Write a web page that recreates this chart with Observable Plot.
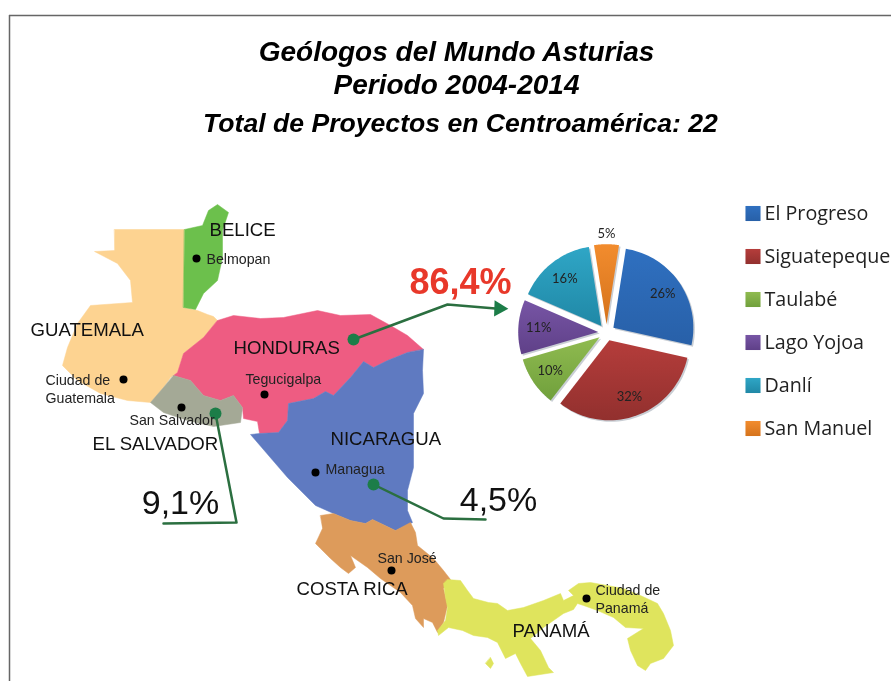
<!DOCTYPE html>
<html><head><meta charset="utf-8">
<style>html,body{margin:0;padding:0;background:#fff}svg{display:block;filter:blur(0.45px)}</style>
<script src="https://cdn.jsdelivr.net/npm/d3@7"></script>
<script src="https://cdn.jsdelivr.net/npm/@observablehq/plot@0.6"></script>
</head><body><div id="chart"></div>
<script>
// ---- pie data
const projects = ["El Progreso","Siguatepeque","Taulabé","Lago Yojoa","Danlí","San Manuel"];
const shares = [26,32,10,11,16,5];
const sliceTop = ["#2f70c0","#b53d3b","#90bb50","#7755a5","#2fa6c6","#f28c2e"];
const sliceBottom = ["#2860a8","#92302e","#70a03c","#5f4088","#2088a6","#d5731c"];
// ---- map outlines, in picture units
const guatemala = [[114,229],[184,229],[183,307],[197,310],[207,314],[213,316],[217,320],[203,337],[183,353],[177,372],[170,377],[163,387],[150,402],[127,400],[100,393],[77,380],[62,365],[67,347],[77,323],[90,305],[132,302],[130,280],[117,263],[94,251],[114,250]];
const belice = [[184,229],[202,225],[208,210],[217,204],[228,212],[222,230],[222,257],[217,280],[203,293],[195,309],[183,307]];
const honduras = [[217,320],[233,315],[260,318],[283,317],[317,310],[340,315],[370,314],[390,325],[407,335],[423,349],[407,352],[387,360],[373,367],[363,361],[350,377],[333,395],[325,391],[313,398],[288,403],[287,420],[278,432],[259,433],[257,421],[243,418],[242,407],[233,395],[220,400],[203,395],[190,380],[173,375],[177,372],[183,353],[203,337]];
const elSalvador = [[173,375],[190,380],[203,395],[220,400],[233,395],[242,407],[240,422],[213,426],[187,420],[163,412],[150,402],[163,387]];
const nicaragua = [[423,349],[422,370],[423,393],[413,413],[413,450],[413,467],[407,490],[407,510],[412,522],[395,530],[372,519],[365,523],[350,520],[333,513],[315,505],[287,477],[250,434],[259,433],[278,432],[287,420],[288,403],[313,398],[325,391],[333,395],[350,377],[363,361],[373,367],[387,360],[407,352]];
const costaRica = [[320,515],[333,513],[350,520],[365,523],[372,519],[395,530],[410,522],[415,532],[417,545],[433,558],[443,570],[450,579],[443,588],[447,605],[443,622],[437,632],[432,622],[423,618],[423,627],[415,618],[412,605],[400,592],[380,578],[367,567],[350,555],[355,567],[348,573],[340,567],[330,558],[320,548],[315,543],[322,528]];
const panama = [[447,579],[460,580],[467,590],[473,598],[488,602],[497,603],[507,610],[523,607],[543,600],[560,593],[563,600],[573,595],[568,590],[578,583],[590,582],[607,585],[623,588],[640,595],[657,603],[663,613],[670,630],[673,645],[663,658],[650,663],[645,670],[637,665],[630,650],[627,638],[643,628],[625,627],[613,617],[597,610],[583,605],[577,603],[573,609],[563,613],[543,627],[530,638],[540,650],[548,667],[553,672],[527,676],[520,663],[515,653],[505,658],[497,642],[487,637],[473,635],[462,630],[448,627],[438,635],[437,630],[445,620],[447,607],[445,597],[443,583]];
const panamaIsland = [[490,657],[493,663],[490,668],[485,663]];
const countries = [["Guatemala",guatemala,"#fdd391"],["Belice",belice,"#6cc04c"],["Honduras",honduras,"#ee5c82"],["El Salvador",elSalvador,"#a4a996"],["Nicaragua",nicaragua,"#5f7ac1"],["Costa Rica",costaRica,"#dd9b5b"],["Panamá",panama,"#dfe45d"],["Isla",panamaIsland,"#dfe45d"]];
const mapRows = countries.flatMap(([name,pts,color]) => pts.map(([x,y]) => ({name,x,y,color})));
// ---- labels
const countryNames = ["BELICE","GUATEMALA","HONDURAS","EL SALVADOR","NICARAGUA","COSTA RICA","PANAMÁ"];
const countryX = [209,30,233,92,330,296,512];
const countryY = [230,330,348,444,439,589,631];
const capitalNames = ["Belmopan","Ciudad de\nGuatemala","San Salvador","Tegucigalpa","Managua","San José","Ciudad de\nPanamá"];
const capitalX = [206,45,129,245,325,377,595];
const capitalY = [258,388,419,378,468,557,598];
const capitalDotX = [196,123,181,264,315,391,586];
const capitalDotY = [258,379,407,394,472,570,598];
// ---- leaders
const leaderHonduras = [[353,339],[447,304],[495,308]];
const leaderSalvador = [[215,413],[236,522],[163,523]];
const leaderNicaragua = [[373,484],[443,518],[485,519]];
const leaders = [leaderHonduras,leaderSalvador,leaderNicaragua];
const percents = ["9,1%","4,5%"];
const percentX = [180,498];
const percentY = [503,500];
const mainPercent = ["86,4%"];
// ---- pie construction from shares
const cx=606, cy=332, R=80, gap=8.3, startDeg=9;
let acc=startDeg;
const total=d3.sum(shares);
const pieRows=[], pieLabels=[];
shares.forEach((v,i)=>{
  const a0=acc, a1=acc+v/total*360; acc=a1;
  const mid=(a0+a1)/2*Math.PI/180;
  const ax=cx+gap*Math.sin(mid), ay=cy-gap*Math.cos(mid);
  pieRows.push({name:projects[i],x:ax,y:ay,fill:`url(#g${i})`});
  for(let k=0;k<=40;k++){
    const t=(a0+(a1-a0)*k/40)*Math.PI/180;
    pieRows.push({name:projects[i],x:ax+R*Math.sin(t),y:ay-R*Math.cos(t),fill:`url(#g${i})`});
  }
  const lr=v<8?99:68;
  pieLabels.push({t:v+"%",x:cx+lr*Math.sin(mid),y:cy-lr*Math.cos(mid)});
});
const legendRows=projects.map((name,i)=>({name,x:752.5,tx:764,y:213+43*i,fill:`url(#g${i})`}));
const defs=()=>{
  const d=d3.create("svg:defs");
  projects.forEach((_,i)=>{
    const g=d.append("linearGradient").attr("id",`g${i}`).attr("x1",0).attr("x2",0).attr("y1",0).attr("y2",1);
    g.append("stop").attr("offset","0%").attr("stop-color",sliceTop[i]);
    g.append("stop").attr("offset","100%").attr("stop-color",sliceBottom[i]);
  });
  return d.node();
};
const arial="Liberation Sans, Arial, sans-serif";
const pathOf=(pts,name)=>pts.map(([x,y])=>({x,y,name}));
const leaderRows=leaders.flatMap((p,i)=>pathOf(p,"l"+i));
const titleLines=["Geólogos del Mundo Asturias","Periodo 2004-2014","Total de Proyectos en Centroamérica: 22"];
const titleX=[456,456,460];
const titleY=[52,85,123];
const titleSize=[28,28,26.6];
const plot=Plot.plot({
  width:891,height:681,margin:0,
  x:{type:"linear",domain:[0,891],range:[0,891],axis:null},
  y:{type:"linear",domain:[0,681],range:[0,681],axis:null},
  color:{type:"identity"},
  style:{background:"#fff"},
  marks:[
    defs,
    Plot.ruleX([9],{y1:15,y2:681,stroke:"#666",strokeWidth:1.5}),
    Plot.ruleY([15],{x1:9,x2:891,stroke:"#666",strokeWidth:1.5}),
    Plot.text(titleLines,{x:(d,i)=>titleX[i],y:(d,i)=>titleY[i],text:d=>d,fontFamily:arial,fontWeight:"bold",fontStyle:"italic",fontSize:(d,i)=>titleSize[i],fill:"#000"}),
    Plot.line(mapRows,{x:"x",y:"y",z:"name",fill:"color",stroke:"color",strokeWidth:0.5,curve:"linear-closed"}),
    Plot.line(pieRows,{x:"x",y:"y",z:"name",fill:"#c9ced4",stroke:"none",dx:1.5,dy:1.5,curve:"linear-closed"}),
    Plot.line(pieRows,{x:"x",y:"y",z:"name",fill:"fill",stroke:"none",curve:"linear-closed"}),
    Plot.text(pieLabels,{x:"x",y:"y",text:"t",fontFamily:"Lato, sans-serif",fontSize:13,fill:"#222"}),
    Plot.dot(legendRows,{x:"x",y:"y",symbol:"square",r:8.5,fill:"fill",stroke:"none"}),
    Plot.text(legendRows,{x:"tx",y:"y",text:"name",textAnchor:"start",fontFamily:"Open Sans, sans-serif",fontSize:19.7,fill:"#222"}),
    Plot.line(leaderRows,{x:"x",y:"y",z:"name",stroke:"#2b6f40",strokeWidth:2.5}),
    Plot.dot(leaders,{x:d=>d[0][0],y:d=>d[0][1],r:6,fill:"#1c7d48",stroke:"none"}),
    Plot.dot(leaderHonduras.slice(-1),{x:()=>498.5,y:()=>308,symbol:"triangle",rotate:92,r:6,fill:"#1c7d48",stroke:"none"}),
    Plot.dot(capitalNames,{x:(d,i)=>capitalDotX[i],y:(d,i)=>capitalDotY[i],r:4,fill:"#000",stroke:"none"}),
    Plot.text(countryNames,{x:(d,i)=>countryX[i],y:(d,i)=>countryY[i],text:d=>d,textAnchor:"start",fontFamily:arial,fontSize:18.6,fill:"#111"}),
    Plot.text(capitalNames,{x:(d,i)=>capitalX[i],y:(d,i)=>capitalY[i],text:d=>d,textAnchor:"start",fontFamily:arial,fontSize:14.2,lineHeight:1.24,fill:"#222"}),
    Plot.text(percents,{x:(d,i)=>percentX[i],y:(d,i)=>percentY[i],text:d=>d,fontFamily:arial,fontSize:34,fill:"#111"}),
    Plot.text(mainPercent,{x:()=>460,y:()=>282,text:d=>d,fontFamily:arial,fontSize:36,fontWeight:"bold",fill:"#e8382a"})
  ]
});
document.getElementById("chart").append(plot);
</script></body></html>
